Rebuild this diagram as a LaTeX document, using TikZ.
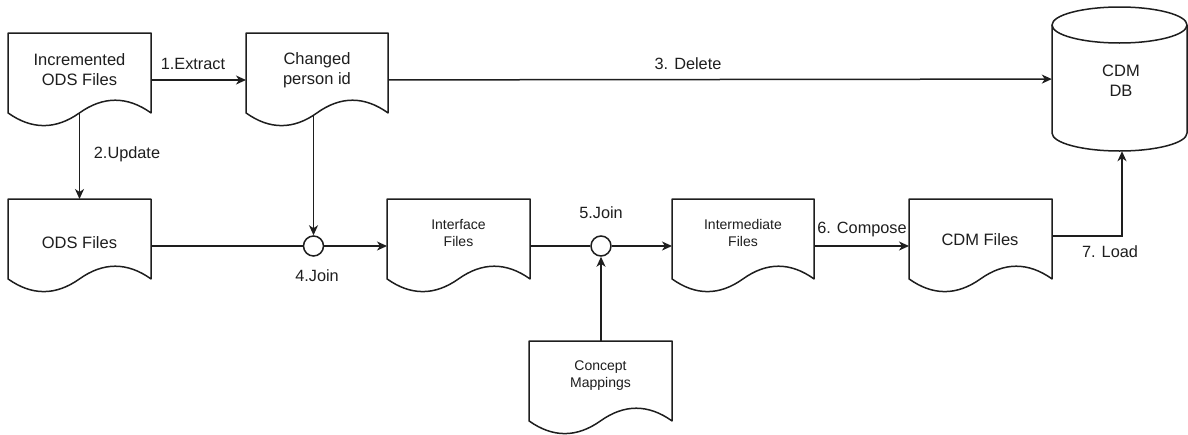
\documentclass[tikz,border=0pt]{standalone}
\usepackage{fontspec}
\setmainfont{Liberation Sans}
\usetikzlibrary{arrows.meta}
\pgfdeclarelayer{wires}
\pgfsetlayers{wires,main}
\definecolor{ink}{RGB}{30,30,30}

\tikzset{
  docline/.style={draw=ink, line width=1.5pt, fill=white, line join=round},
  docframe/.style={rectangle, draw=none, minimum height=94pt, inner sep=0pt, outer sep=0pt},
  wire/.style={draw=ink, line width=1.5pt},
  arr/.style={wire, -{Stealth[length=10pt, width=9pt, inset=3pt]}},
  bigtxt/.style={text=ink, align=center, inner sep=0pt, font=\fontsize{16.5}{19.8}\selectfont},
  smalltxt/.style={text=ink, align=center, inner sep=0pt, font=\fontsize{14}{17}\selectfont},
  flowlbl/.style={text=ink, inner sep=0pt, font=\fontsize{16.3}{19.5}\selectfont},
  joint/.style={circle, draw=ink, fill=white, line width=1.5pt, minimum size=20pt, inner sep=0pt}
}

% document symbol with wavy bottom edge: name, left, top, width
\newcommand\docsymbol[4]{%
  \draw[docline] (#2,-#3) -- ({#2+#4},-#3) -- ({#2+#4},{-#3-79.9})
    .. controls ({#2+5*#4/6},{-#3-62.98}) and ({#2+2*#4/3},{-#3-62.98}) .. ({#2+#4/2},{-#3-79.9})
    .. controls ({#2+#4/3},{-#3-96.82}) and ({#2+#4/6},{-#3-96.82}) .. (#2,{-#3-79.9}) -- cycle;
  \node[docframe, minimum width=#4pt] (#1) at ({#2+#4/2},{-#3-47}) {};
}

\begin{document}
\begin{tikzpicture}[x=1pt, y=1pt]
\useasboundingbox (0,0) rectangle (1188,-434);

% documents
\docsymbol{inc}{8}{33}{143}
\docsymbol{chg}{246}{33}{142}
\docsymbol{ods}{8}{199}{143}
\docsymbol{ifc}{387}{199}{143}
\docsymbol{imd}{672}{199}{142}
\docsymbol{cdmf}{909}{199}{143}
\docsymbol{cmap}{529}{341}{143}

\node[bigtxt] (inc-t) at (79.5,-70) {Incremented\\ODS Files};
\node[bigtxt] (chg-t) at (317,-70) {Changed\\person id};
\node[bigtxt] (ods-t) at (79.5,-243) {ODS Files};
\node[smalltxt] (ifc-t) at (458.5,-233) {Interface\\Files};
\node[smalltxt] (imd-t) at (743,-233) {Intermediate\\Files};
\node[bigtxt] (cdmf-t) at (980,-239.5) {CDM Files};
\node[smalltxt] (cmap-t) at (600.5,-376) {Concept\\Mappings};

% database cylinder
\draw[docline] (1052,-25) -- (1052,-133)
  arc[start angle=180, end angle=360, x radius=67.5, y radius=18] -- (1187,-25);
\draw[docline] (1119.5,-25) ellipse [x radius=67.5, y radius=18];
\node[rectangle, draw=none, minimum width=135pt, minimum height=144pt, inner sep=0pt] (db) at (1119.5,-79) {};
\node[bigtxt] (db-t) at (1121,-81) {CDM\\DB};

% join points
\node[joint] (j4) at (313.5,-246) {};
\node[joint] (j5) at (601,-246) {};
\coordinate (ld) at (1122,-236);

% connectors
\begin{pgfonlayer}{wires}
\draw[arr] (inc) -- (chg);
\draw[arr] (inc.center) -- (ods);
\draw[arr] (chg) -- (db);
\draw[arr] (chg.center -| j4) -- (j4);
\draw[wire] (ods) -- (j4);
\draw[arr] (j4) -- (ifc);
\draw[wire] (ifc) -- (j5);
\draw[arr] (j5) -- (imd);
\draw[arr] (cmap.north -| j5) -- (j5);
\draw[arr] (imd) -- (cdmf);
\draw[arr] (ld -| cdmf.east) -- (ld) -- (ld |- db.south);
\end{pgfonlayer}

% flow labels
\node[flowlbl] (l1) at (193,-63.5) {1.Extract};
\node[flowlbl] (l2) at (127,-154) {2.Update};
\node[flowlbl] (l3) at (688,-64) {3. Delete};
\node[flowlbl] (l4) at (317,-276) {4.Join};
\node[flowlbl] (l5) at (601,-212.5) {5.Join};
\node[flowlbl] (l6) at (862,-229) {6. Compose};
\node[flowlbl] (l7) at (1110,-252) {7. Load};
\end{tikzpicture}
\end{document}
